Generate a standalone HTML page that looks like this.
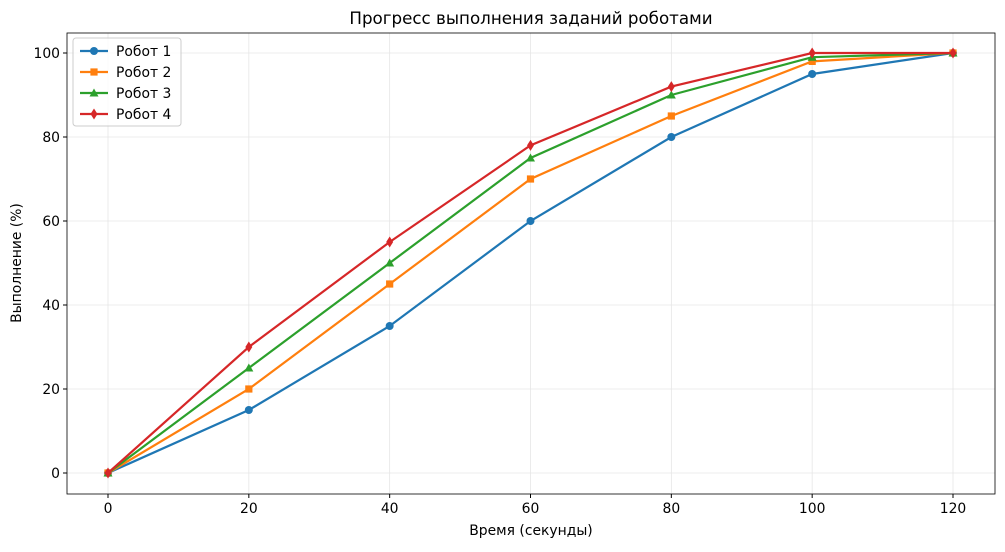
<!DOCTYPE html>
<html><head><meta charset="utf-8"><style>
body{margin:0;background:#fff;font-family:"Liberation Sans","DejaVu Sans",sans-serif;}
text{font-family:"DejaVu Sans","Liberation Sans",sans-serif;}
</style></head><body>
<svg id="chart" width="1005" height="547" xmlns="http://www.w3.org/2000/svg"></svg>
<script>
const times=[0,20,40,60,80,100,120];
const robot1=[0,15,35,60,80,95,100];
const robot2=[0,20,45,70,85,98,100];
const robot3=[0,25,50,75,90,99,100];
const robot4=[0,30,55,78,92,100,100];
const seriesNames=["Робот 1","Робот 2","Робот 3","Робот 4"];
const xTicks=[0,20,40,60,80,100,120];
const yTicks=[0,20,40,60,80,100];
const colors=["#1f77b4","#ff7f0e","#2ca02c","#d62728"];
const markers=["circle","square","triangle","diamond"];
const all=[robot1,robot2,robot3,robot4];
const L=67,R=995,T=33,B=494;
const xs=v=>108+(v-0)*(953-108)/120;
const ys=v=>473-v*(473-53)/100;
const svg=document.getElementById('chart');
const NS="http://www.w3.org/2000/svg";
function mk(t,a,p){const e=document.createElementNS(NS,t);for(const k in a)e.setAttribute(k,a[k]);(p||svg).appendChild(e);return e;}
xTicks.forEach(v=>{const l=mk('line',{x1:xs(v),x2:xs(v),y1:T,y2:B,stroke:'#e6e6e6','stroke-width':0.8});

mk('line',{x1:xs(v),x2:xs(v),y1:B,y2:B+4,stroke:'#000'});
const t=mk('text',{x:xs(v),y:B+19,'text-anchor':'middle','font-size':13.9});t.textContent=v;
});
yTicks.forEach(v=>{const l=mk('line',{x1:L,x2:R,y1:ys(v),y2:ys(v),stroke:'#e6e6e6','stroke-width':0.8});

mk('line',{x1:L-4,x2:L,y1:ys(v),y2:ys(v),stroke:'#000'});
const t=mk('text',{x:L-7,y:ys(v)+5,'text-anchor':'end','font-size':13.9});t.textContent=v;
});
const fr=mk('rect',{x:L,y:T,width:R-L,height:B-T,fill:'none',stroke:'#000','stroke-width':0.8});

function marker(type,x,y,c,g){
 if(type==='circle')return mk('circle',{cx:x,cy:y,r:4,fill:c},g);
 if(type==='square')return mk('rect',{x:x-3.6,y:y-3.6,width:7.2,height:7.2,fill:c},g);
 if(type==='triangle')return mk('polygon',{points:`${x},${y-4.5} ${x-4.5},${y+3.5} ${x+4.5},${y+3.5}`,fill:c},g);
 return mk('polygon',{points:`${x},${y-5.5} ${x-3.5},${y} ${x},${y+5.5} ${x+3.5},${y}`,fill:c},g);
}
all.forEach((d,i)=>{const g=mk('g',{});
 
 const p=mk('polyline',{points:d.map((v,j)=>xs(times[j])+','+ys(v)).join(' '),fill:'none',stroke:colors[i],'stroke-width':2.2},g);
 
 d.forEach((v,j)=>{const m=marker(markers[i],xs(times[j]),ys(v),colors[i],g);
 });
});
const lg=mk('g',{});
mk('rect',{x:73,y:38,width:108,height:88,rx:3,fill:'#fff','fill-opacity':0.8,stroke:'#ccc'},lg);
seriesNames.forEach((n,i)=>{const y=51+i*21;const e=mk('g',{},lg);
 
 mk('line',{x1:80,x2:108,y1:y,y2:y,stroke:colors[i],'stroke-width':2.2},e);
 marker(markers[i],94,y,colors[i],e);
 const t=mk('text',{x:116,y:y+5,'font-size':13.9},e);t.textContent=n;});
const tt=mk('text',{x:531,y:24,'text-anchor':'middle','font-size':16.7});tt.textContent='Прогресс выполнения заданий роботами';

const xt=mk('text',{x:531,y:535,'text-anchor':'middle','font-size':13.9});xt.textContent='Время (секунды)';

const yt=mk('text',{x:21,y:263,'text-anchor':'middle','font-size':13.9,transform:'rotate(-90 21 263)'});yt.textContent='Выполнение (%)';

</script>
</body></html>
